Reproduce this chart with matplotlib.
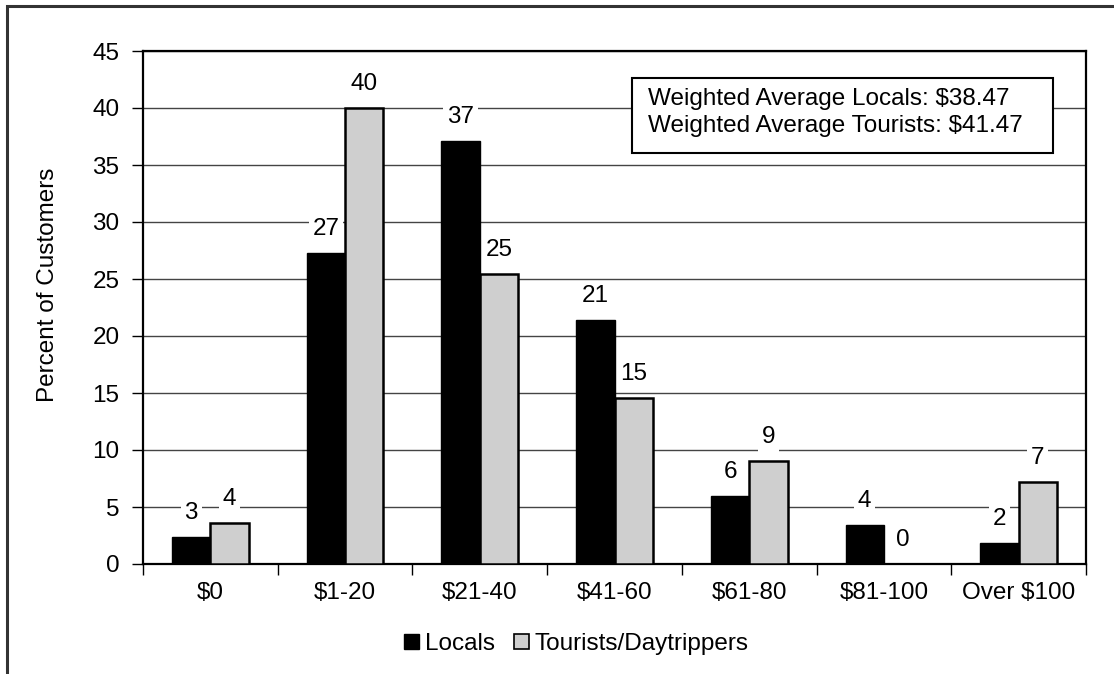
import numpy as np
import matplotlib
matplotlib.use("Agg")
import matplotlib.pyplot as plt
from matplotlib.patches import Rectangle, Patch

plt.rcParams["font.family"] = ["Liberation Sans", "DejaVu Sans"]

categories = ["$0", "$1-20", "$21-40", "$41-60", "$61-80", "$81-100", "Over $100"]
locals_pct = [2.4, 27.3, 37.1, 21.4, 6.0, 3.4, 1.8]
tourists_pct = [3.6, 40.0, 25.4, 14.6, 9.0, 0.0, 7.2]
locals_labels = ["3", "27", "37", "21", "6", "4", "2"]
tourists_labels = ["4", "40", "25", "15", "9", "0", "7"]
y_ticks = [0, 5, 10, 15, 20, 25, 30, 35, 40, 45]
note_lines = ["Weighted Average Locals: $38.47", "Weighted Average Tourists: $41.47"]

FS = 17.5
W, H = 1114, 674

fig = plt.figure(figsize=(W / 100, H / 100), dpi=100)
ax = fig.add_axes([143 / W, 1 - 564 / H, (1086 - 143) / W, (564 - 51) / H])

x = np.arange(len(categories))
bw = 0.285
ax.bar(x - bw / 2, locals_pct, bw, color="black", edgecolor="black", linewidth=1.0, zorder=3)
ax.bar(x + bw / 2, tourists_pct, bw, color="#cfcfcf", edgecolor="black", linewidth=1.8, zorder=3)

for xi, v, lab in zip(x - bw / 2, locals_pct, locals_labels):
    ax.annotate(lab, (xi, v), xytext=(0, 24), textcoords="offset pixels",
                ha="center", va="center", fontsize=FS, zorder=4,
                bbox=dict(boxstyle="square,pad=0.15", fc="white", ec="none"))
for xi, v, lab in zip(x + bw / 2, tourists_pct, tourists_labels):
    ax.annotate(lab, (xi, v), xytext=(0, 24), textcoords="offset pixels",
                ha="center", va="center", fontsize=FS, zorder=4,
                bbox=dict(boxstyle="square,pad=0.15", fc="white", ec="none"))

ax.set_xlim(-0.5, len(categories) - 0.5)
ax.set_ylim(0, 45)
ax.set_yticks(y_ticks)
ax.yaxis.grid(True, color="#444444", linewidth=1.0, zorder=0)
ax.set_axisbelow(True)

ax.set_xticks(x)
ax.set_xticklabels(categories, fontsize=FS)
ax.set_xticks(np.arange(len(categories) + 1) - 0.5, minor=True)
ax.tick_params(axis="x", which="major", length=0, pad=13)
ax.tick_params(axis="x", which="minor", length=8, width=1.0, direction="out")
ax.tick_params(axis="y", length=8, width=1.0, pad=9, labelsize=FS)

for s in ax.spines.values():
    s.set_linewidth(1.6)
    s.set_color("black")

ax.set_ylabel("Percent of Customers", fontsize=FS)
ax.yaxis.set_label_coords(-0.089, 0.545)

# note box with weighted averages
fig.patches.append(Rectangle((632 / W, 1 - 153 / H), (1053 - 632) / W, (153 - 78) / H,
                             transform=fig.transFigure, fc="white", ec="black",
                             lw=1.5, zorder=5))
fig.text(648 / W, 1 - 99 / H, note_lines[0], fontsize=FS, va="center", ha="left", zorder=6)
fig.text(648 / W, 1 - 126 / H, note_lines[1], fontsize=FS, va="center", ha="left", zorder=6)

handles = [Patch(facecolor="black", edgecolor="black", label="Locals"),
           Patch(facecolor="#cfcfcf", edgecolor="black", linewidth=1.2, label="Tourists/Daytrippers")]
fig.legend(handles=handles, loc="center", bbox_to_anchor=(576.5 / W, 1 - 644 / H), ncol=2,
           frameon=False, fontsize=FS, handlelength=0.6, handleheight=0.6,
           handletextpad=0.25, columnspacing=0.8, borderpad=0.2)

# outer chart frame, cut off at right and bottom
fig.patches.append(Rectangle((7 / W, -0.05), 1.1, 1 - 6 / H + 0.05,
                             transform=fig.transFigure, fill=False,
                             ec="#333333", lw=2.2, zorder=1))

fig.savefig("out.png", dpi=100)
